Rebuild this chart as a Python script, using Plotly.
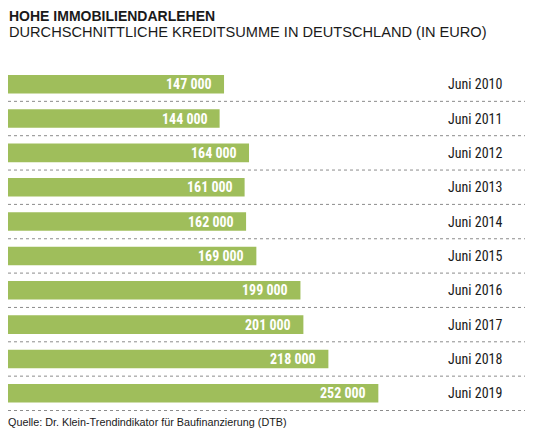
import plotly.graph_objects as go

years = ["Juni 2010", "Juni 2011", "Juni 2012", "Juni 2013", "Juni 2014",
         "Juni 2015", "Juni 2016", "Juni 2017", "Juni 2018", "Juni 2019"]
values = [147000, 144000, 164000, 161000, 162000, 169000, 199000, 201000, 218000, 252000]

title = "HOHE IMMOBILIENDARLEHEN"
subtitle = "DURCHSCHNITTLICHE KREDITSUMME IN DEUTSCHLAND (IN EURO)"
source = "Quelle: Dr. Klein-Trendindikator für Baufinanzierung (DTB)"

GREEN = "#9fbe5b"
NARROW = "Roboto Condensed, Liberation Sans Narrow, sans-serif"
SANS = "Liberation Sans, Arial, sans-serif"

def fmt(v):
    return f"{v:,}".replace(",", " ")

fig = go.Figure(go.Bar(
    x=values, y=years, orientation="h",
    marker=dict(color=GREEN, line=dict(width=0)),
    textposition="none", hoverinfo="skip",
))

# page body has an 8px margin; work in reference pixel coords minus OFF
OFF = 8
W, H = 540 - OFF, 435 - OFF
L, T, B = 8 - OFF, 67 - OFF, 24
plot_h = H - T - B

def py(p):
    return (H - B - (p - OFF)) / plot_h

def px(p):
    return (p - OFF - L) / (W - L)

annotations = []
for y, v in zip(years, values):
    annotations.append(dict(x=v, y=y, xref="x", yref="y", text=fmt(v), showarrow=False,
                             xanchor="right", yanchor="middle", xshift=-10,
                             font=dict(family=NARROW, size=14, color="white", weight="bold")))
    annotations.append(dict(x=px(446), y=y, xref="paper", yref="y", text=y,
                             showarrow=False, xanchor="left", yanchor="middle",
                             font=dict(family=NARROW, size=14, color="#1a1a1a")))

annotations += [
    dict(x=px(7), y=py(15.5), xref="paper", yref="paper", text=f"<b>{title}</b>", showarrow=False,
         xanchor="left", yanchor="middle", font=dict(family=SANS, size=14, color="#1a1a1a")),
    dict(x=px(7), y=py(32), xref="paper", yref="paper", text=subtitle, showarrow=False,
         xanchor="left", yanchor="middle", font=dict(family=SANS, size=14.6, color="#1a1a1a")),
    dict(x=px(6), y=py(421.5), xref="paper", yref="paper", text=source, showarrow=False,
         xanchor="left", yanchor="middle", font=dict(family=SANS, size=10.8, color="#1a1a1a")),
]

shapes = []
for i in range(len(years)):
    shapes.append(dict(type="line", xref="paper", yref="y", x0=0, x1=px(525),
                       y0=i + 0.5, y1=i + 0.5, line=dict(color="#8c8c8c", width=1, dash="dot")))

fig.update_layout(
    width=W, height=H,
    margin=dict(l=L, r=0, t=T, b=B, pad=0),
    paper_bgcolor="white", plot_bgcolor="white",
    showlegend=False, bargap=0.46,
    xaxis=dict(range=[0, 362000], visible=False, fixedrange=True),
    yaxis=dict(autorange="reversed", visible=False, fixedrange=True),
    annotations=annotations, shapes=shapes,
)

fig.write_html("out.html")
